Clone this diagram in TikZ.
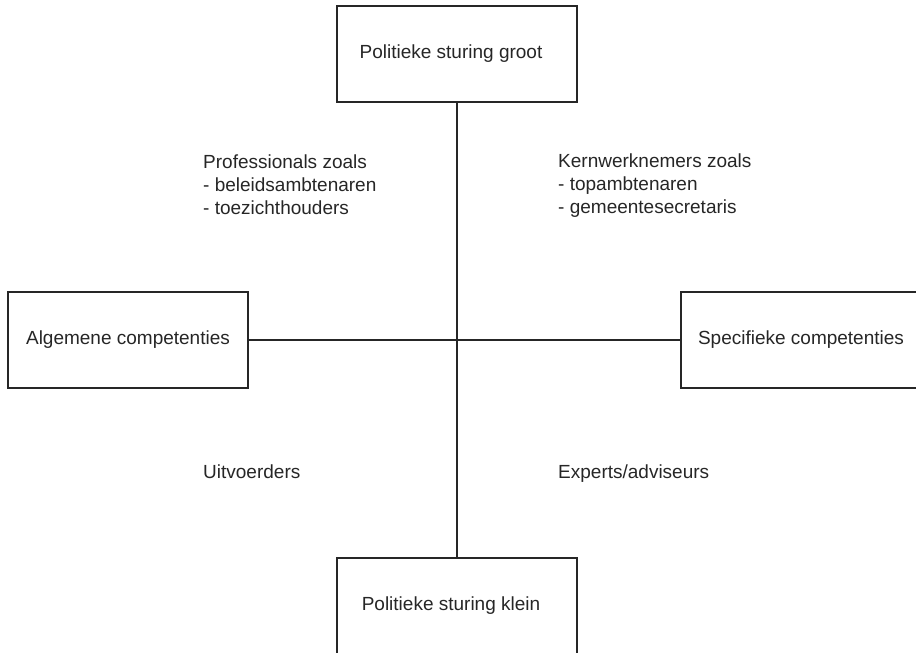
\documentclass[tikz,border=0pt]{standalone}
\usepackage{fontspec}
\setmainfont{Liberation Sans}
\begin{document}
\begin{tikzpicture}[x=1pt,y=-1pt,
  font=\fontsize{19}{23}\selectfont,
  box/.style={draw=black!85, line width=1.8pt, minimum width=240pt, minimum height=96pt, inner sep=0pt, text=black!85},
  axis/.style={draw=black!85, line width=1.8pt},
  lbl/.style={inner sep=0pt, anchor=base west, align=left, text=black!85}]
\clip (0,0) rectangle (916,653);
\useasboundingbox (0,0) rectangle (916,653);
\node[box] (top) at (457,54) {\hspace*{-12pt}Politieke sturing groot};
\node[box] (bot) at (457,606) {\hspace*{-12pt}Politieke sturing klein};
\node[box] (left) at (128,340) {Algemene competenties};
\node[box] (right) at (801,340) {Specifieke competenties};
\draw[axis] (top.south) -- (bot.north);
\draw[axis] (left.east) -- (right.west);
\node[lbl] (prof1) at (203,168) {Professionals zoals};
\node[lbl] (prof2) at (203,191) {- beleidsambtenaren};
\node[lbl] (prof3) at (203,214) {- toezichthouders};
\node[lbl] (kern1) at (558,167) {Kernwerknemers zoals};
\node[lbl] (kern2) at (558,190) {- topambtenaren};
\node[lbl] (kern3) at (558,213) {- gemeentesecretaris};
\node[lbl] (uitv) at (203,478) {Uitvoerders};
\node[lbl] (exp) at (558,478) {Experts/adviseurs};
\end{tikzpicture}
\end{document}
